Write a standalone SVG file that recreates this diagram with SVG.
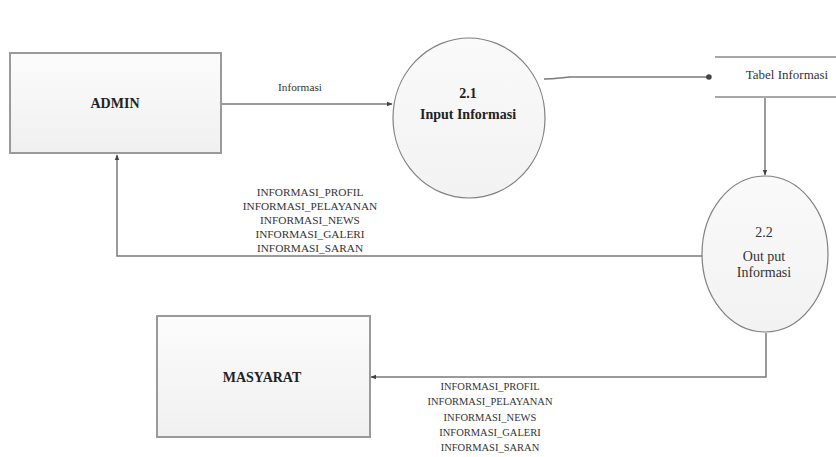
<svg xmlns="http://www.w3.org/2000/svg" width="836" height="457" viewBox="0 0 836 457">
  <style>
    .box { fill: url(#boxFill); stroke: #9a9a9a; stroke-width: 2; }
    .proc { fill: url(#procFill); stroke: #808080; stroke-width: 1.2; }
    .store { stroke: #8a8a8a; stroke-width: 1.6; fill: none; }
    .flow { fill: none; stroke: #7a7a7a; stroke-width: 1.5; }
    text { font-family: "Liberation Serif", "DejaVu Serif", "Times New Roman", serif; fill: #333; text-anchor: middle; }
    .title { font-size: 14px; font-weight: bold; fill: #222; }
    .lbl { font-size: 10.5px; }
    .lbl2 { font-size: 11.3px; }
    .plbl { font-size: 14px; }
  </style>
  <defs>
    <linearGradient id="boxFill" x1="0" y1="0" x2="0" y2="1">
      <stop offset="0" stop-color="#fcfcfc"/>
      <stop offset="1" stop-color="#f0f0f0"/>
    </linearGradient>
    <linearGradient id="procFill" x1="0" y1="0" x2="0" y2="1">
      <stop offset="0" stop-color="#fafafa"/>
      <stop offset="1" stop-color="#f2f2f2"/>
    </linearGradient>
    <marker id="arrow" viewBox="0 0 10 10" refX="9" refY="5" markerWidth="6" markerHeight="6" orient="auto" markerUnits="userSpaceOnUse">
      <path d="M0,1 L10,5 L0,9 z" fill="#444"/>
    </marker>
    <marker id="dot" viewBox="0 0 10 10" refX="8" refY="5" markerWidth="7" markerHeight="7" orient="auto" markerUnits="userSpaceOnUse">
      <circle cx="5" cy="5" r="4" fill="#444"/>
    </marker>
  </defs>

  <!-- Data flows -->
  <g id="connectors">
    <path class="flow" d="M222,104 L392,104" marker-end="url(#arrow)"/>
    <path class="flow" d="M544,79 Q552,79 560,78 L570,77 L711,77" marker-end="url(#dot)"/>
    <path class="flow" d="M765,98 L765,175" marker-end="url(#arrow)"/>
    <path class="flow" d="M702,256 L117,256 L117,155" marker-end="url(#arrow)"/>
    <path class="flow" d="M766,333 L766,377 L371,377" marker-end="url(#arrow)"/>
    <text class="lbl2" x="300" y="91">Informasi</text>
    <g class="lbl2">
      <text x="310" y="196">INFORMASI_PROFIL</text>
      <text x="310" y="210">INFORMASI_PELAYANAN</text>
      <text x="310" y="224">INFORMASI_NEWS</text>
      <text x="310" y="238">INFORMASI_GALERI</text>
      <text x="310" y="252">INFORMASI_SARAN</text>
    </g>
    <g class="lbl">
      <text x="490" y="390">INFORMASI_PROFIL</text>
      <text x="490" y="405">INFORMASI_PELAYANAN</text>
      <text x="490" y="421">INFORMASI_NEWS</text>
      <text x="490" y="436">INFORMASI_GALERI</text>
      <text x="490" y="451">INFORMASI_SARAN</text>
    </g>
  </g>

  <!-- External entity: ADMIN -->
  <g id="admin">
    <rect class="box" x="10" y="53" width="211" height="100"/>
    <text class="title" x="115" y="108">ADMIN</text>
  </g>

  <!-- Process 2.1 -->
  <g id="p21">
    <ellipse class="proc" cx="469" cy="118" rx="76" ry="80"/>
    <text class="title" x="468" y="98">2.1</text>
    <text class="title" x="468" y="119">Input Informasi</text>
  </g>

  <!-- Data store -->
  <g id="tabel">
    <line class="store" x1="715" y1="57" x2="836" y2="57"/>
    <line class="store" x1="715" y1="97" x2="836" y2="97"/>
    <text x="787" y="79" style="font-size:13px">Tabel Informasi</text>
  </g>

  <!-- Process 2.2 -->
  <g id="p22">
    <ellipse class="proc" cx="765" cy="254" rx="63" ry="78"/>
    <text class="plbl" x="764" y="237">2.2</text>
    <text class="plbl" x="764" y="261">Out put</text>
    <text class="plbl" x="764" y="277">Informasi</text>
  </g>

  <!-- External entity: MASYARAT -->
  <g id="masyarat">
    <rect class="box" x="157" y="316" width="213" height="121"/>
    <text class="title" x="262" y="382">MASYARAT</text>
  </g>
</svg>
